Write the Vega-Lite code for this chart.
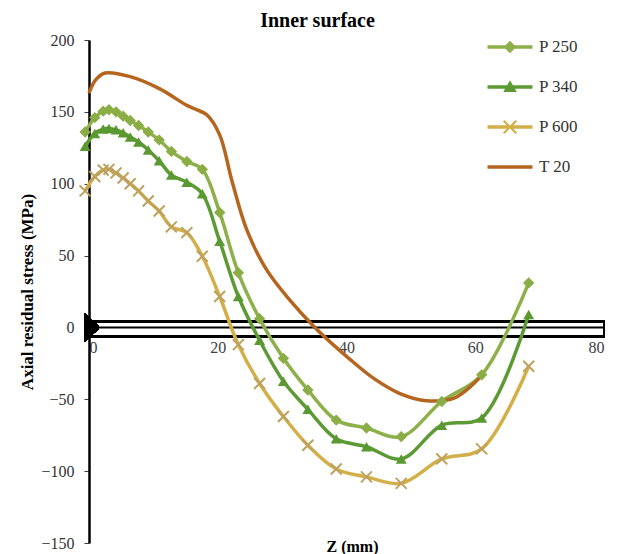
{
  "$schema": "https://vega.github.io/schema/vega-lite/v6.json",
  "width": 515,
  "height": 503,
  "autosize": {"type": "none"},
  "padding": {"left": 89, "top": 40, "right": 22, "bottom": 11},
  "background": "white",
  "title": {"text": "Inner surface", "font": "Liberation Serif", "fontSize": 20, "fontWeight": "bold", "color": "black", "anchor": "middle", "dx": -29, "dy": 28, "offset": 13, "baseline": "alphabetic"},
  "config": {"view": {"stroke": null}},
  "datasets": {
    "curves": [
      {"series": "P 250", "z": -0.6, "stress": 136}, {"series": "P 250", "z": 0.9, "stress": 146}, {"series": "P 250", "z": 2.2, "stress": 150.5}, {"series": "P 250", "z": 3.1, "stress": 151.5}, {"series": "P 250", "z": 4.2, "stress": 150}, {"series": "P 250", "z": 5.3, "stress": 147}, {"series": "P 250", "z": 6.4, "stress": 144}, {"series": "P 250", "z": 7.7, "stress": 140.5}, {"series": "P 250", "z": 9.2, "stress": 136}, {"series": "P 250", "z": 10.9, "stress": 130.5}, {"series": "P 250", "z": 12.8, "stress": 122.5}, {"series": "P 250", "z": 15.2, "stress": 115.5}, {"series": "P 250", "z": 17.6, "stress": 110}, {"series": "P 250", "z": 20.3, "stress": 80}, {"series": "P 250", "z": 23.2, "stress": 38}, {"series": "P 250", "z": 26.5, "stress": 6}, {"series": "P 250", "z": 30.2, "stress": -21.5}, {"series": "P 250", "z": 34.0, "stress": -43.5}, {"series": "P 250", "z": 38.4, "stress": -64.5}, {"series": "P 250", "z": 43.1, "stress": -70}, {"series": "P 250", "z": 48.5, "stress": -76}, {"series": "P 250", "z": 54.8, "stress": -51.5}, {"series": "P 250", "z": 61.0, "stress": -33}, {"series": "P 250", "z": 68.3, "stress": 31},
      {"series": "P 340", "z": -0.6, "stress": 126}, {"series": "P 340", "z": 0.9, "stress": 135}, {"series": "P 340", "z": 2.2, "stress": 138}, {"series": "P 340", "z": 3.1, "stress": 138.5}, {"series": "P 340", "z": 4.2, "stress": 137.5}, {"series": "P 340", "z": 5.3, "stress": 135.5}, {"series": "P 340", "z": 6.4, "stress": 132.5}, {"series": "P 340", "z": 7.7, "stress": 129}, {"series": "P 340", "z": 9.2, "stress": 123.5}, {"series": "P 340", "z": 10.9, "stress": 116}, {"series": "P 340", "z": 12.8, "stress": 106}, {"series": "P 340", "z": 15.2, "stress": 101}, {"series": "P 340", "z": 17.6, "stress": 93}, {"series": "P 340", "z": 20.3, "stress": 60}, {"series": "P 340", "z": 23.2, "stress": 21.5}, {"series": "P 340", "z": 26.5, "stress": -9}, {"series": "P 340", "z": 30.2, "stress": -37.5}, {"series": "P 340", "z": 34.0, "stress": -57}, {"series": "P 340", "z": 38.4, "stress": -77.5}, {"series": "P 340", "z": 43.1, "stress": -83}, {"series": "P 340", "z": 48.5, "stress": -91.5}, {"series": "P 340", "z": 54.8, "stress": -68}, {"series": "P 340", "z": 61.0, "stress": -63}, {"series": "P 340", "z": 68.3, "stress": 9},
      {"series": "P 600", "z": -0.6, "stress": 95}, {"series": "P 600", "z": 0.9, "stress": 105}, {"series": "P 600", "z": 2.2, "stress": 109.5}, {"series": "P 600", "z": 3.1, "stress": 110}, {"series": "P 600", "z": 4.2, "stress": 107.5}, {"series": "P 600", "z": 5.3, "stress": 104}, {"series": "P 600", "z": 6.4, "stress": 100}, {"series": "P 600", "z": 7.7, "stress": 95}, {"series": "P 600", "z": 9.2, "stress": 88}, {"series": "P 600", "z": 10.9, "stress": 81}, {"series": "P 600", "z": 12.8, "stress": 70}, {"series": "P 600", "z": 15.2, "stress": 66}, {"series": "P 600", "z": 17.6, "stress": 49.5}, {"series": "P 600", "z": 20.3, "stress": 21.5}, {"series": "P 600", "z": 23.2, "stress": -12}, {"series": "P 600", "z": 26.5, "stress": -39}, {"series": "P 600", "z": 30.2, "stress": -62}, {"series": "P 600", "z": 34.0, "stress": -82}, {"series": "P 600", "z": 38.4, "stress": -98.5}, {"series": "P 600", "z": 43.1, "stress": -104}, {"series": "P 600", "z": 48.5, "stress": -108.5}, {"series": "P 600", "z": 54.8, "stress": -91.5}, {"series": "P 600", "z": 61.0, "stress": -84.5}, {"series": "P 600", "z": 68.3, "stress": -27},
      {"series": "T 20", "z": 0, "stress": 163}, {"series": "T 20", "z": 1, "stress": 172}, {"series": "T 20", "z": 2.5, "stress": 177}, {"series": "T 20", "z": 6.4, "stress": 174.5}, {"series": "T 20", "z": 11, "stress": 166}, {"series": "T 20", "z": 15.2, "stress": 154.5}, {"series": "T 20", "z": 16.7, "stress": 151.5}, {"series": "T 20", "z": 18.3, "stress": 148}, {"series": "T 20", "z": 20.3, "stress": 134}, {"series": "T 20", "z": 22.2, "stress": 102}, {"series": "T 20", "z": 24.5, "stress": 68}, {"series": "T 20", "z": 27.6, "stress": 40}, {"series": "T 20", "z": 31.2, "stress": 19}, {"series": "T 20", "z": 35.2, "stress": -0.5}, {"series": "T 20", "z": 40.5, "stress": -22}, {"series": "T 20", "z": 44.4, "stress": -36}, {"series": "T 20", "z": 48.3, "stress": -46}, {"series": "T 20", "z": 52.4, "stress": -51}, {"series": "T 20", "z": 56.8, "stress": -49}, {"series": "T 20", "z": 61.0, "stress": -33.5}
    ]
  },
  "data": {"name": "curves"},
  "encoding": {
    "x": {"field": "z", "type": "quantitative", "scale": {"domain": [0, 80], "nice": false, "zero": false},
      "axis": {"orient": "bottom", "offset": -216, "values": [0, 20, 40, 60, 80], "grid": false, "ticks": false, "domain": true, "domainColor": "black", "domainWidth": 2, "labelFont": "Liberation Serif", "labelFontSize": 16, "labelColor": "#404040", "labelPadding": 12, "title": "Z (mm)", "titleFont": "Liberation Serif", "titleFontSize": 16, "titleFontWeight": "bold", "titleColor": "black", "titleY": 224, "titleX": 263, "titleBaseline": "alphabetic"}},
    "y": {"field": "stress", "type": "quantitative", "scale": {"domain": [-150, 200], "nice": false, "zero": false},
      "axis": {"values": [-150, -100, -50, 0, 50, 100, 150, 200], "grid": false, "domainColor": "black", "domainWidth": 2.5, "tickColor": "#404040", "tickSize": 5, "tickWidth": 1, "labelFont": "Liberation Serif", "labelFontSize": 16, "labelColor": "#333333", "labelPadding": 10, "title": "Axial residual stress (MPa)", "titleFont": "Liberation Serif", "titleFontSize": 17, "titleFontWeight": "bold", "titleColor": "black", "titlePadding": 4}}
  },
  "layer": [
    {
      "mark": {"type": "rect", "fill": null, "fillOpacity": 0, "stroke": "black", "strokeWidth": 2, "clip": false},
      "encoding": {"x": {"datum": 0}, "x2": {"datum": 80}, "y": {"datum": 4}, "y2": {"datum": -6.5}}
    },
    {
      "mark": {"type": "line", "interpolate": "catmull-rom", "strokeWidth": 3.5, "clip": false},
      "encoding": {
        "color": {"field": "series", "type": "nominal",
          "scale": {"domain": ["P 250", "P 340", "P 600", "T 20"], "range": ["#8DB04A", "#5C9A34", "#D2AF48", "#B5651D"]},
          "legend": {"orient": "none", "legendX": 406, "legendY": -8, "title": null, "padding": 0, "symbolSize": 900, "labelOffset": 14, "rowPadding": 17, "labelFont": "Liberation Serif", "labelFontSize": 17, "labelColor": "#333333",
            "encode": {"symbols": {"update": {
              "shape": {"signal": "datum.value === 'P 250' ? 'M-1.5,-0.11H1.5V0.11H-1.5Z M0,-0.42L0.42,0L0,0.42L-0.42,0Z' : datum.value === 'P 340' ? 'M-1.5,-0.11H1.5V0.11H-1.5Z M0,-0.45L0.45,0.33H-0.45Z' : datum.value === 'P 600' ? 'M-1.5,-0.11H1.5V0.11H-1.5Z M-0.37,-0.47L0.47,0.37L0.37,0.47L-0.47,-0.37Z M0.37,-0.47L0.47,-0.37L-0.37,0.47L-0.47,0.37Z' : 'M-1.5,-0.11H1.5V0.11H-1.5Z'"},
              "fill": {"signal": "scale('color', datum.value)"},
              "fillOpacity": {"value": 1},
              "opacity": {"value": 1},
              "strokeWidth": {"value": 0}
            }}}
          }
        }
      }
    },
    {
      "transform": [{"filter": "datum.series === 'P 250'"}],
      "mark": {"type": "point", "shape": "diamond", "filled": true, "size": 130, "color": "#8AAE45", "opacity": 1, "clip": false}
    },
    {
      "transform": [{"filter": "datum.series === 'P 340'"}],
      "mark": {"type": "point", "shape": "triangle-up", "filled": true, "size": 120, "color": "#5A9832", "opacity": 1, "clip": false}
    },
    {
      "transform": [{"filter": "datum.series === 'P 600'"}],
      "mark": {"type": "point", "shape": "M-1,-1L1,1M-1,1L1,-1", "filled": false, "size": 120, "color": "#BCA25E", "strokeWidth": 2, "opacity": 1, "clip": false}
    },
    {
      "mark": {"type": "point", "shape": "M-0.3,-1L0.7,-0.1L0.7,0.1L-0.3,1Z", "filled": true, "size": 784, "color": "black", "opacity": 1, "clip": false},
      "encoding": {"x": {"datum": 0}, "y": {"datum": 0}}
    }
  ]
}
